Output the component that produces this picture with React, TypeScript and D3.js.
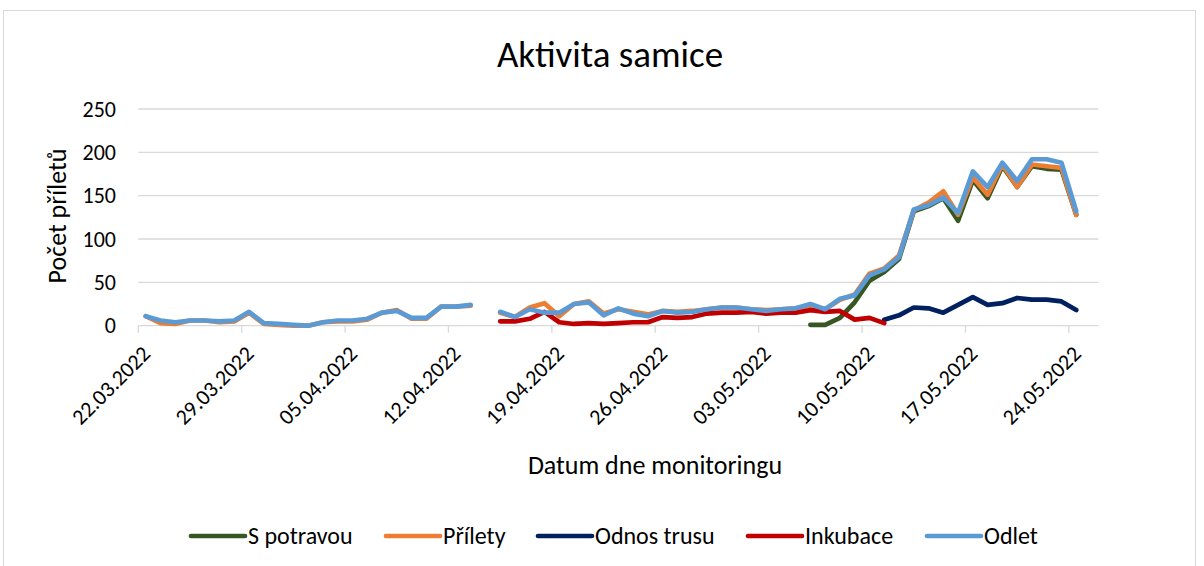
import React from "react";
import * as d3 from "d3";

// ---- data (one value per day starting 22.03.2022; null = no record) ----
const startDay = Date.UTC(2022, 2, 22);
const tickLabels = [
  "22.03.2022", "29.03.2022", "05.04.2022", "12.04.2022", "19.04.2022",
  "26.04.2022", "03.05.2022", "10.05.2022", "17.05.2022", "24.05.2022",
];
const yTicks = [0, 50, 100, 150, 200, 250];

const N = null;
const sPotravou: (number | null)[] = [
  N, N, N, N, N, N, N, N, N, N, N, N, N, N, N, N, N, N, N, N, N, N, N, N,
  N, N, N, N, N, N, N, N, N, N, N, N, N, N, N, N, N, N, N, N, N,
  1, 1, 9, 27, 52, 62, 77, 132, 138, 147, 121, 168, 147, 184, 160, 184, 181, 180, 128,
];
const prilety: (number | null)[] = [
  11, 3, 2, 6, 6, 4, 5, 15, 2, 1, 0, 0, 4, 5, 5, 7, 15, 18, 8, 8, 22, 22, 23, N,
  15, 10, 21, 26, 11, 25, 28, 14, 19, 16, 13, 17, 16, 17, 19, 21, 21, 19, 18, 19, 20,
  23, 19, 30, 36, 60, 66, 81, 133, 142, 155, 128, 171, 151, 186, 160, 186, 184, 182, 128,
];
const odnosTrusu: (number | null)[] = [
  N, N, N, N, N, N, N, N, N, N, N, N, N, N, N, N, N, N, N, N, N, N, N, N,
  N, N, N, N, N, N, N, N, N, N, N, N, N, N, N, N, N, N, N, N, N, N, N, N, N, N,
  7, 12, 21, 20, 15, 24, 33, 24, 26, 32, 30, 30, 28, 18,
];
const inkubace: (number | null)[] = [
  N, N, N, N, N, N, N, N, N, N, N, N, N, N, N, N, N, N, N, N, N, N, N, N,
  5, 5, 8, 16, 4, 2, 3, 2, 3, 4, 4, 10, 9, 10, 14, 15, 15, 16, 14, 15, 15,
  18, 16, 17, 7, 9, 3,
];
const odlet: (number | null)[] = [
  11, 6, 4, 6, 6, 5, 6, 16, 3, 2, 1, 0, 4, 6, 6, 8, 15, 17, 9, 9, 22, 22, 24, N,
  16, 10, 19, 15, 15, 25, 27, 12, 20, 14, 11, 17, 15, 16, 19, 21, 21, 19, 17, 19, 20,
  25, 19, 31, 35, 58, 65, 79, 134, 139, 148, 130, 178, 160, 188, 167, 192, 192, 188, 132,
];

const seriesNames = ["S potravou", "Přílety", "Odnos trusu", "Inkubace", "Odlet"];
const seriesValues = [sPotravou, prilety, odnosTrusu, inkubace, odlet];
const seriesColors = ["#375623", "#ED7D31", "#002060", "#C00000", "#5B9BD5"];

// ---- layout ----
const W = 1204;
const H = 566;
const FONT = "Carlito, Calibri, Lato, sans-serif";
const DAY = 86400000;
const legendX = [191, 386, 538, 748, 927];

export default function App() {
  const x = d3
    .scaleUtc()
    .domain([new Date(startDay), new Date(startDay + 65 * DAY)])
    .range([138.3, 1098.4]);
  const y = d3.scaleLinear().domain([0, 250]).range([325.7, 109]);

  const dayDate = (i: number) => new Date(startDay + i * DAY + DAY / 2);
  const tickDates = tickLabels.map((_, i) => new Date(startDay + i * 7 * DAY));

  const line = d3
    .line<number | null>()
    .defined((d) => d !== null)
    .x((_, i) => x(dayDate(i)))
    .y((d) => y(d as number));

  const [x0, x1] = x.range();

  return (
    <svg
      width={W}
      height={H}
      style={{ position: "absolute", left: 0, top: 0, background: "#fff" }}
      fontFamily={FONT}
    >
      <rect x={3.5} y={10.5} width={1192} height={560} fill="#fff" stroke="#d9d9d9" />
      <text x={610} y={67} textAnchor="middle" fontSize={37} fill="#000">
        Aktivita samice
      </text>

      {yTicks.map((t) => (
        <g key={t}>
          <line x1={x0} x2={x1} y1={y(t)} y2={y(t)} stroke="#d9d9d9" strokeWidth={1.3} />
          <text x={116} y={y(t)} dy="0.35em" textAnchor="end" fontSize={22} fill="#000">
            {t}
          </text>
        </g>
      ))}

      {tickDates.map((d, i) => (
        <g key={i}>
          <line x1={x(d)} x2={x(d)} y1={y(0)} y2={y(0) + 7} stroke="#d9d9d9" strokeWidth={1.3} />
          <text
            transform={`translate(${x(d) + 8},${y(0) + 24}) rotate(-45)`}
            textAnchor="end"
            dy="0.35em"
            fontSize={22}
            fill="#000"
          >
            {tickLabels[i]}
          </text>
        </g>
      ))}

      <text
        transform={`translate(66,216) rotate(-90)`}
        textAnchor="middle"
        fontSize={26}
        fill="#000"
      >
        Počet příletů
      </text>
      <text x={655} y={474} textAnchor="middle" fontSize={26} fill="#000">
        Datum dne monitoringu
      </text>

      {seriesValues.map((vals, si) => (
        <path
          key={si}
          d={line(vals) || ""}
          fill="none"
          stroke={seriesColors[si]}
          strokeWidth={4.7}
          strokeLinejoin="round"
          strokeLinecap="round"
        />
      ))}

      {seriesNames.map((name, i) => (
        <g key={name}>
          <line
            x1={legendX[i]}
            x2={legendX[i] + 54}
            y1={536}
            y2={536}
            stroke={seriesColors[i]}
            strokeWidth={4.7}
            strokeLinecap="round"
          />
          <text x={legendX[i] + 57} y={536} dy="0.35em" fontSize={24} fill="#000">
            {name}
          </text>
        </g>
      ))}
    </svg>
  );
}
